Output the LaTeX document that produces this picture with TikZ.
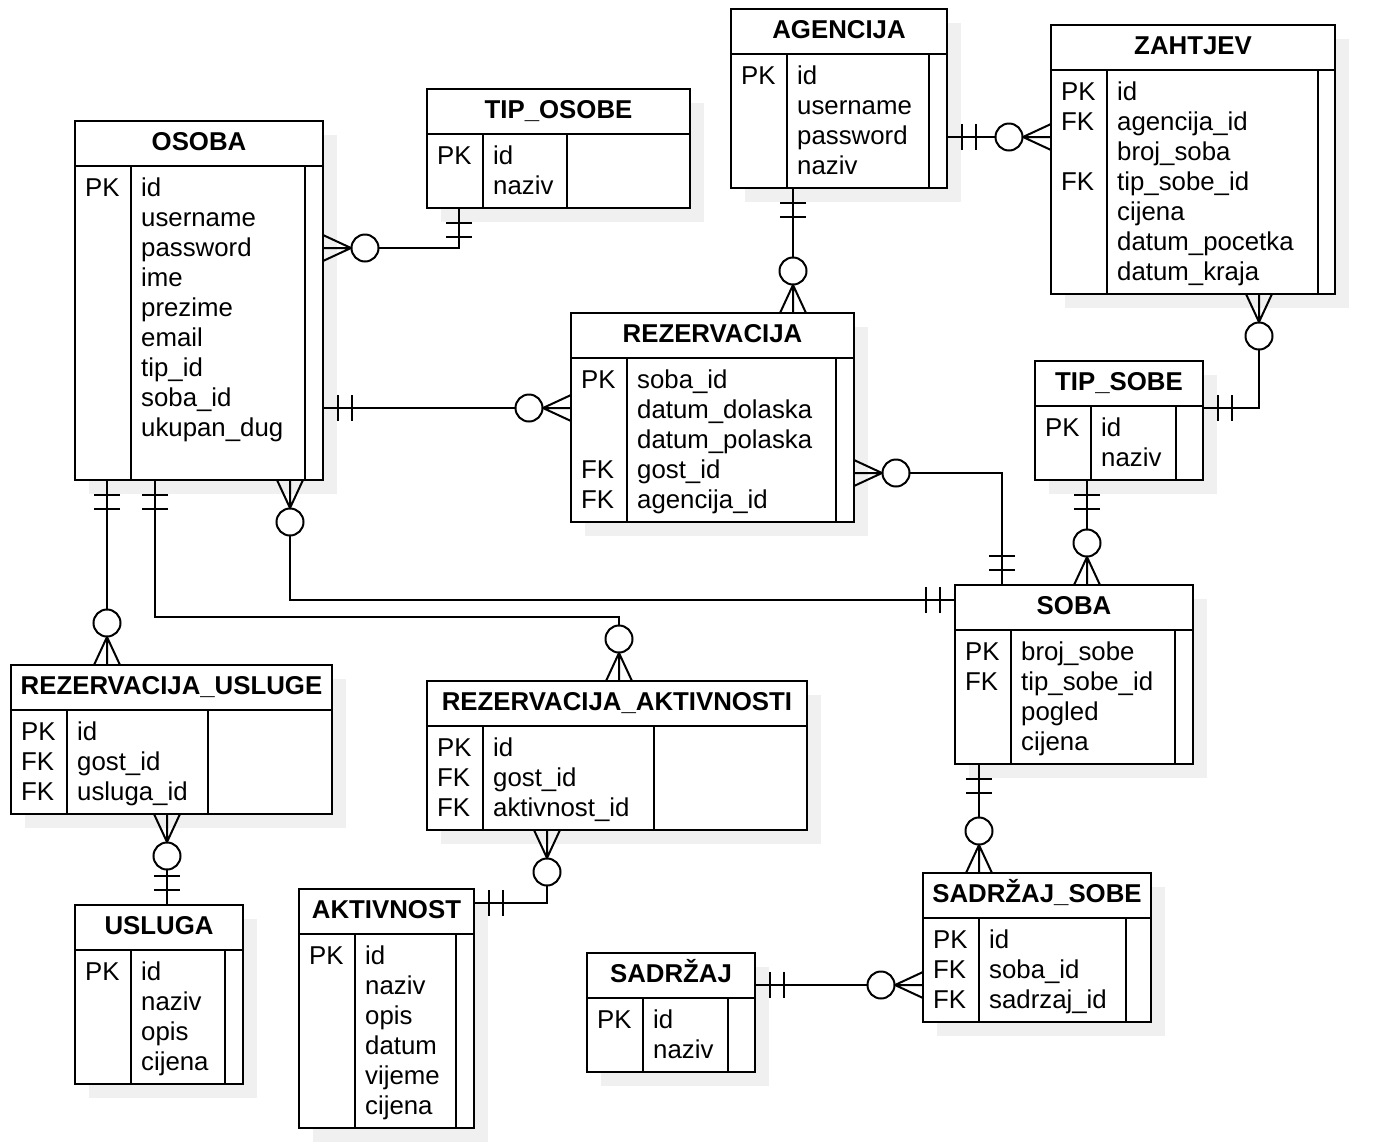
\documentclass[tikz,border=0pt]{standalone}
\usepackage{fontspec}
\setmainfont{Liberation Sans}
\usetikzlibrary{calc}

\tikzset{
  erline/.style={line width=2pt},
  tablebox/.style={draw, line width=2pt, rectangle, inner sep=0pt, outer sep=0pt,
                   anchor=north west, fill=white},
  shadowfill/.style={fill=black!6},
  celltext/.style={inner sep=0pt, anchor=base west, font=\fontsize{25.8}{30}\selectfont},
  titletext/.style={inner sep=0pt, anchor=base, font=\fontsize{25.8}{30}\selectfont\bfseries},
  % crow's foot with a ring: zero or many
  zmany/.pic={
    \draw[erline] (0,-13) -- (28,0) -- (0,13) (0,0) -- (28,0);
    \draw[erline, fill=white] (42,0) circle[radius=13.5pt];
  },
  % two bars: exactly one
  mone/.pic={
    \draw[erline] (15,-13) -- (15,13) (29,-13) -- (29,13);
  },
}

% #1 name, #2 x, #3 y, #4 width, #5 height, #6 inner bar offset from left, #7 title, #8 rows
\newcommand\ertable[8]{%
  \fill[shadowfill] (#2+14,#3+14) rectangle ++(#4,#5);
  \node[tablebox, minimum width=#4pt, minimum height=#5pt] (#1) at (#2,#3) {};
  \draw[erline] ($(#1.north west)+(0,45)$) -- ($(#1.north east)+(0,45)$);
  \draw[erline] ($(#1.north west)+(56,45)$) -- ($(#1.south west)+(56,0)$);
  \draw[erline] ($(#1.north west)+(#6,45)$) -- ($(#1.south west)+(#6,0)$);
  \node[titletext] at ($(#1.north)+(0,29)$) {#7};
  \foreach \k/\f [count=\i] in {#8} {
    \node[celltext] at ($(#1.north west)+(10,45+30*\i)$) {\k};
    \node[celltext] at ($(#1.north west)+(66,45+30*\i)$) {\f};
  }
}

\begin{document}
\begin{tikzpicture}[x=1pt, y=-1pt]
\fill[white] (0,0) rectangle (1374,1144);
\useasboundingbox (0,0) rectangle (1374,1144);

% entities
\ertable{osoba}{75}{121}{248}{359}{230}{OSOBA}{PK/id,{}/username,{}/password,{}/ime,{}/prezime,{}/email,{}/tip\_id,{}/soba\_id,{}/ukupan\_dug}
\ertable{tiposobe}{427}{89}{263}{119}{140}{TIP\_OSOBE}{PK/id,{}/naziv}
\ertable{agencija}{731}{9}{216}{179}{198}{AGENCIJA}{PK/id,{}/username,{}/password,{}/naziv}
\ertable{zahtjev}{1051}{25}{284}{269}{267}{ZAHTJEV}{PK/id,FK/agencija\_id,{}/broj\_soba,FK/tip\_sobe\_id,{}/cijena,{}/datum\_pocetka,{}/datum\_kraja}
\ertable{tipsobe}{1035}{361}{168}{119}{141}{TIP\_SOBE}{PK/id,{}/naziv}
\ertable{rez}{571}{313}{283}{209}{265}{REZERVACIJA}{PK/soba\_id,{}/datum\_dolaska,{}/datum\_polaska,FK/gost\_id,FK/agencija\_id}
\ertable{soba}{955}{585}{238}{179}{220}{SOBA}{PK/broj\_sobe,FK/tip\_sobe\_id,{}/pogled,{}/cijena}
\ertable{rezus}{11}{665}{321}{149}{197}{REZERVACIJA\_USLUGE}{PK/id,FK/gost\_id,FK/usluga\_id}
\ertable{rezak}{427}{681}{380}{149}{227}{REZERVACIJA\_AKTIVNOSTI}{PK/id,FK/gost\_id,FK/aktivnost\_id}
\ertable{usluga}{75}{905}{168}{179}{150}{USLUGA}{PK/id,{}/naziv,{}/opis,{}/cijena}
\ertable{aktivnost}{299}{889}{175}{239}{157}{AKTIVNOST}{PK/id,{}/naziv,{}/opis,{}/datum,{}/vijeme,{}/cijena}
\ertable{sadrzaj}{587}{953}{168}{119}{141}{SADRŽAJ}{PK/id,{}/naziv}
\ertable{sadsobe}{923}{873}{228}{149}{203}{SADRŽAJ\_SOBE}{PK/id,FK/soba\_id,FK/sadrzaj\_id}

% attachment points on the entities
\coordinate (c1a) at ($(osoba.north east)+(0,127)$);
\coordinate (c1b) at ($(tiposobe.south west)+(32,0)$);
\coordinate (c2a) at ($(agencija.south west)+(62,0)$);
\coordinate (c2b) at ($(rez.north west)+(222,0)$);
\coordinate (c3a) at ($(agencija.north east)+(0,128)$);
\coordinate (c3b) at ($(zahtjev.north west)+(0,112)$);
\coordinate (c4a) at ($(osoba.north east)+(0,287)$);
\coordinate (c4b) at ($(rez.north west)+(0,95)$);
\coordinate (c5a) at ($(rez.north east)+(0,160)$);
\coordinate (c5b) at ($(soba.north west)+(47,0)$);
\coordinate (c6a) at ($(zahtjev.south west)+(208,0)$);
\coordinate (c6b) at ($(tipsobe.north east)+(0,47)$);
\coordinate (c7a) at ($(tipsobe.south west)+(52,0)$);
\coordinate (c7b) at ($(soba.north west)+(132,0)$);
\coordinate (c8a) at ($(osoba.south west)+(215,0)$);
\coordinate (c8b) at ($(soba.north west)+(0,15)$);
\coordinate (c9a) at ($(osoba.south west)+(32,0)$);
\coordinate (c9b) at ($(rezus.north west)+(96,0)$);
\coordinate (c10a) at ($(osoba.south west)+(80,0)$);
\coordinate (c10k) at ($(c10a)+(0,137)$);
\coordinate (c10b) at ($(rezak.north west)+(192,0)$);
\coordinate (c11a) at ($(rezus.south west)+(156,0)$);
\coordinate (c11b) at ($(usluga.north west)+(92,0)$);
\coordinate (c12a) at ($(rezak.south west)+(120,0)$);
\coordinate (c12b) at ($(aktivnost.north east)+(0,14)$);
\coordinate (c13a) at ($(soba.south west)+(24,0)$);
\coordinate (c13b) at ($(sadsobe.north west)+(56,0)$);
\coordinate (c14a) at ($(sadrzaj.north east)+(0,32)$);
\coordinate (c14b) at ($(sadsobe.north west)+(0,112)$);

% relationship lines
\draw[erline] (c1a) -| (c1b);
\draw[erline] (c2a) -- (c2b);
\draw[erline] (c3a) -- (c3b);
\draw[erline] (c4a) -- (c4b);
\draw[erline] (c5a) -| (c5b);
\draw[erline] (c6a) |- (c6b);
\draw[erline] (c7a) -- (c7b);
\draw[erline] (c8a) |- (c8b);
\draw[erline] (c9a) -- (c9b);
\draw[erline] (c10a) -- (c10k) -| (c10b);
\draw[erline] (c11a) -- (c11b);
\draw[erline] (c12a) |- (c12b);
\draw[erline] (c13a) -- (c13b);
\draw[erline] (c14a) -- (c14b);

% cardinality marks
\pic at (c1a) {zmany};        \pic[rotate=-90] at (c1b) {mone};
\pic[rotate=-90] at (c2a) {mone}; \pic[rotate=90] at (c2b) {zmany};
\pic at (c3a) {mone};         \pic[rotate=180] at (c3b) {zmany};
\pic at (c4a) {mone};         \pic[rotate=180] at (c4b) {zmany};
\pic at (c5a) {zmany};        \pic[rotate=90] at (c5b) {mone};
\pic[rotate=-90] at (c6a) {zmany}; \pic at (c6b) {mone};
\pic[rotate=-90] at (c7a) {mone}; \pic[rotate=90] at (c7b) {zmany};
\pic[rotate=-90] at (c8a) {zmany}; \pic[rotate=180] at (c8b) {mone};
\pic[rotate=-90] at (c9a) {mone}; \pic[rotate=90] at (c9b) {zmany};
\pic[rotate=-90] at (c10a) {mone}; \pic[rotate=90] at (c10b) {zmany};
\pic[rotate=-90] at (c11a) {zmany}; \pic[rotate=90] at (c11b) {mone};
\pic[rotate=-90] at (c12a) {zmany}; \pic at (c12b) {mone};
\pic[rotate=-90] at (c13a) {mone}; \pic[rotate=90] at (c13b) {zmany};
\pic at (c14a) {mone};        \pic[rotate=180] at (c14b) {zmany};
\end{tikzpicture}
\end{document}
